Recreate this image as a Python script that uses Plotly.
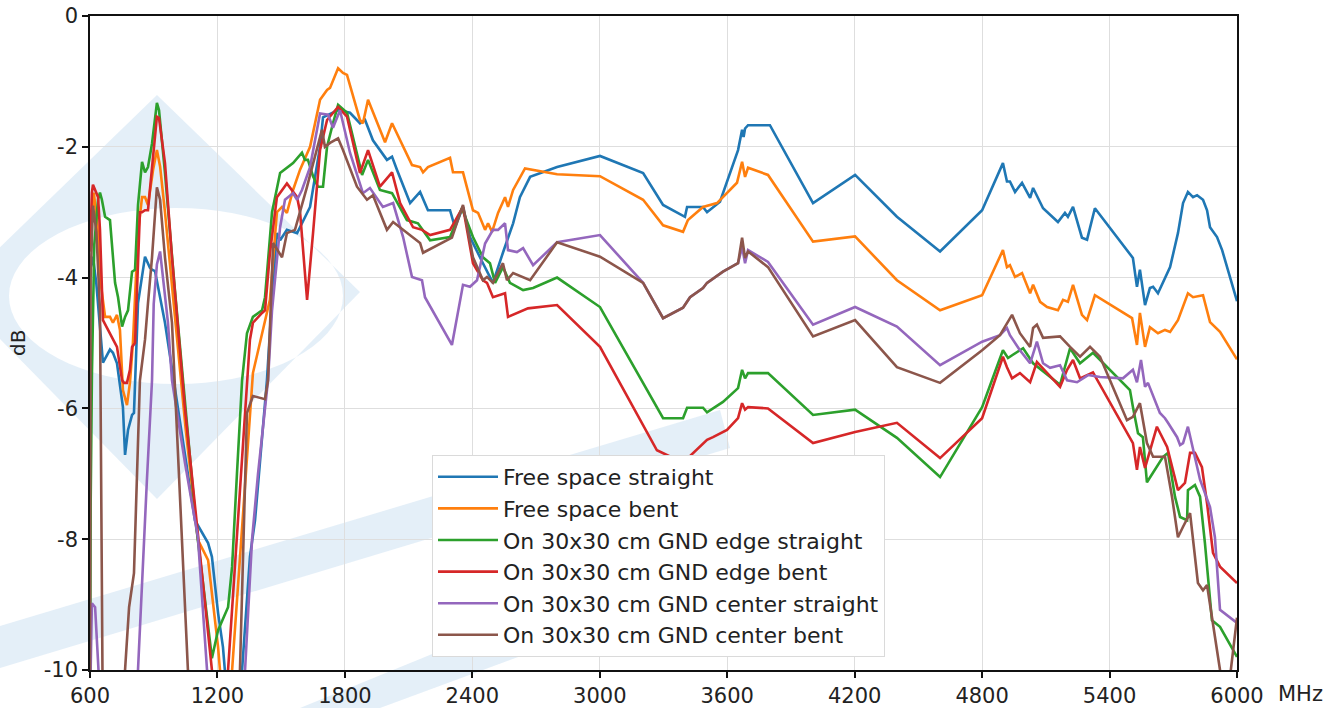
import math
import plotly.graph_objects as go

# ---------------- data (MHz, dB) ----------------
free_space_straight = [
    (600, -3.9), (614, -3.68), (630, -4.1), (661, -5.3), (694, -5.1), (708, -5.15), (727, -5.31),
    (755, -5.98), (765, -6.71), (779, -6.33), (798, -6.1), (807, -6.07), (826, -4.39), (859, -3.68),
    (882, -3.85), (892, -3.88), (906, -3.9), (953, -4.69), (1094, -7.71), (1156, -8.06), (1174, -8.27),
    (1203, -9.13), (1226, -9.65), (1250, -10.6), (1306, -10.6), (1316, -10.0), (1353, -8.27),
    (1377, -7.71), (1433, -5.57), (1457, -4.3), (1480, -3.32), (1495, -3.43), (1527, -3.27),
    (1575, -3.32), (1636, -2.92), (1683, -2.0), (1697, -1.55), (1768, -1.44), (1824, -1.48),
    (1871, -1.64), (1895, -1.59), (1932, -1.9), (1998, -2.2), (2022, -2.15), (2045, -2.35),
    (2107, -2.86), (2154, -2.69), (2191, -2.97), (2295, -2.97), (2318, -3.23), (2356, -2.92),
    (2389, -3.38), (2450, -3.78), (2497, -4.08), (2544, -3.62), (2592, -3.17), (2624, -2.77),
    (2672, -2.46), (2799, -2.31), (3001, -2.14), (3204, -2.4), (3298, -2.89), (3401, -3.07),
    (3411, -2.92), (3486, -2.92), (3505, -3.0), (3566, -2.84), (3651, -2.05), (3670, -1.74),
    (3677, -1.85), (3684, -1.72), (3698, -1.67), (3801, -1.67), (4004, -2.86), (4202, -2.43),
    (4399, -3.07), (4602, -3.6), (4800, -2.97), (4898, -2.25), (4917, -2.53), (4931, -2.53),
    (4955, -2.69), (4988, -2.55), (5026, -2.78), (5040, -2.63), (5063, -2.77), (5087, -2.94),
    (5157, -3.15), (5190, -3.01), (5204, -3.07), (5228, -2.92), (5270, -3.39), (5294, -3.42),
    (5331, -2.94), (5510, -3.7), (5529, -4.14), (5543, -3.88), (5567, -4.42), (5590, -4.16),
    (5605, -4.14), (5628, -4.24), (5685, -3.84), (5722, -3.32), (5746, -2.86), (5769, -2.69),
    (5793, -2.77), (5812, -2.74), (5840, -2.81), (5859, -2.97), (5873, -3.23), (5906, -3.38),
    (5930, -3.58), (6000, -4.36),
]

free_space_bent = [
    (600, -3.6), (605, -3.2), (618, -2.7), (635, -3.2), (647, -4.0), (671, -4.6), (694, -4.6),
    (708, -4.69), (727, -4.57), (741, -4.8), (755, -5.72), (774, -5.95), (788, -5.61), (802, -5.0),
    (826, -3.32), (845, -2.77), (859, -2.77), (873, -2.89), (897, -2.35), (915, -2.05), (930, -2.3),
    (953, -3.0), (1000, -4.6), (1050, -6.3), (1108, -8.01), (1156, -8.32), (1203, -9.65),
    (1212, -10.0), (1235, -10.6), (1260, -10.6), (1269, -10.0), (1367, -5.46), (1447, -4.34),
    (1480, -3.0), (1504, -2.92), (1527, -3.01), (1556, -2.66), (1589, -2.35), (1636, -2.0),
    (1683, -1.28), (1716, -1.13), (1730, -1.1), (1768, -0.8), (1791, -0.87), (1810, -0.9),
    (1871, -1.59), (1885, -1.64), (1909, -1.28), (1989, -1.93), (2022, -1.64), (2116, -2.28),
    (2154, -2.31), (2168, -2.39), (2191, -2.31), (2295, -2.17), (2309, -2.39), (2356, -2.39),
    (2403, -2.97), (2427, -3.01), (2460, -3.27), (2474, -3.17), (2493, -3.3), (2521, -3.01),
    (2554, -2.77), (2568, -2.92), (2592, -2.66), (2648, -2.33), (2799, -2.42), (3001, -2.45),
    (3204, -2.81), (3298, -3.2), (3392, -3.3), (3415, -3.12), (3486, -2.92), (3552, -2.86),
    (3646, -2.55), (3670, -2.23), (3684, -2.46), (3698, -2.32), (3792, -2.43), (4004, -3.45),
    (4202, -3.37), (4399, -4.04), (4602, -4.5), (4800, -4.27), (4898, -3.58), (4917, -3.84),
    (4931, -3.81), (4955, -3.99), (4988, -3.93), (5026, -4.24), (5040, -4.11), (5073, -4.37),
    (5106, -4.45), (5157, -4.5), (5181, -4.34), (5204, -4.37), (5228, -4.11), (5270, -4.57),
    (5294, -4.65), (5331, -4.27), (5506, -4.62), (5529, -5.03), (5543, -4.54), (5567, -5.06),
    (5590, -4.76), (5628, -4.85), (5661, -4.8), (5685, -4.83), (5722, -4.65), (5769, -4.24),
    (5793, -4.3), (5840, -4.27), (5873, -4.68), (5920, -4.83), (6000, -5.25),
]

gnd_edge_straight = [
    (600, -10.5), (603, -7.5), (609, -5.5), (614, -4.5), (620, -3.5), (638, -2.8), (647, -2.7),
    (656, -2.81), (671, -3.07), (694, -3.12), (718, -4.08), (732, -4.3), (751, -4.75), (765, -4.6),
    (779, -4.5), (798, -3.91), (812, -3.88), (826, -2.89), (845, -2.23), (859, -2.39), (873, -2.31),
    (892, -1.95), (915, -1.33), (925, -1.44), (953, -2.4), (1000, -4.2), (1100, -7.8),
    (1174, -9.82), (1203, -9.39), (1250, -9.04), (1269, -8.42), (1292, -6.99), (1316, -5.57),
    (1339, -4.85), (1367, -4.6), (1410, -4.5), (1424, -4.3), (1457, -3.0), (1495, -2.4),
    (1556, -2.25), (1598, -2.09), (1612, -2.2), (1626, -2.2), (1650, -2.45), (1673, -2.61),
    (1697, -2.61), (1716, -2.0), (1744, -1.64), (1768, -1.36), (1810, -1.48), (1881, -2.43),
    (1909, -2.2), (1965, -2.66), (2022, -2.71), (2092, -3.12), (2144, -3.17), (2201, -3.43),
    (2295, -3.38), (2351, -2.94), (2403, -3.38), (2450, -3.69), (2483, -3.78), (2507, -4.08),
    (2544, -3.84), (2577, -4.08), (2639, -4.19), (2686, -4.16), (2799, -4.0), (3001, -4.45),
    (3298, -6.15), (3392, -6.15), (3411, -5.99), (3486, -5.99), (3505, -6.06), (3580, -5.9),
    (3651, -5.69), (3670, -5.41), (3684, -5.54), (3698, -5.46), (3792, -5.46), (4004, -6.1),
    (4202, -6.02), (4399, -6.45), (4602, -7.05), (4800, -5.98), (4898, -5.11), (4922, -5.23),
    (4945, -5.18), (4993, -5.08), (5040, -5.31), (5167, -5.64), (5214, -5.08), (5261, -5.31),
    (5322, -5.15), (5496, -5.72), (5510, -5.98), (5534, -6.38), (5557, -6.44), (5576, -7.13),
    (5652, -6.74), (5675, -6.68), (5708, -7.35), (5732, -7.66), (5765, -7.71), (5769, -7.25),
    (5802, -7.17), (5826, -7.35), (5849, -8.06), (5882, -9.24), (5920, -9.34), (6000, -9.8),
]

gnd_edge_bent = [
    (600, -3.6), (609, -2.7), (614, -2.58), (638, -2.77), (647, -3.27), (661, -4.65), (685, -4.8),
    (704, -4.91), (727, -5.06), (751, -5.57), (760, -5.61), (774, -5.61), (788, -5.41), (798, -5.06),
    (812, -5.0), (835, -3.0), (845, -3.0), (859, -2.97), (873, -2.97), (882, -2.66), (897, -2.16),
    (915, -1.54), (925, -1.56), (953, -2.25), (986, -3.69), (1047, -6.0), (1174, -10.0),
    (1190, -10.6), (1240, -10.6), (1250, -10.0), (1353, -4.95), (1367, -4.69), (1410, -4.54),
    (1424, -4.5), (1447, -3.63), (1480, -2.77), (1527, -2.56), (1575, -2.77), (1589, -3.0),
    (1622, -4.34), (1650, -3.32), (1683, -2.05), (1716, -1.59), (1768, -1.39), (1810, -1.54),
    (1871, -2.4), (1909, -2.05), (1965, -2.61), (2022, -2.39), (2060, -2.86), (2121, -3.23),
    (2163, -3.27), (2201, -3.35), (2295, -3.27), (2356, -2.92), (2403, -3.78), (2450, -4.04),
    (2469, -4.08), (2497, -4.3), (2554, -4.24), (2568, -4.6), (2662, -4.47), (2799, -4.42),
    (3001, -5.06), (3269, -6.64), (3392, -6.83), (3505, -6.48), (3533, -6.44), (3599, -6.33),
    (3651, -6.15), (3670, -5.92), (3684, -6.02), (3698, -5.98), (3792, -6.0), (4004, -6.53),
    (4202, -6.36), (4399, -6.22), (4602, -6.76), (4800, -6.15), (4898, -5.21), (4917, -5.37),
    (4941, -5.54), (4978, -5.46), (5026, -5.6), (5058, -5.29), (5167, -5.67), (5200, -5.41),
    (5228, -5.26), (5261, -5.54), (5322, -5.45), (5510, -6.53), (5529, -6.94), (5543, -6.59),
    (5567, -6.91), (5623, -6.28), (5671, -6.59), (5722, -7.25), (5755, -7.14), (5779, -6.68),
    (5802, -6.68), (5835, -6.9), (5859, -7.45), (5887, -8.21), (5920, -8.42), (6000, -8.67),
]

gnd_center_straight = [
    (600, -10.5), (609, -8.98), (624, -9.04), (638, -10.0), (650, -10.6), (800, -10.6),
    (826, -10.0), (868, -7.09), (892, -5.57), (900, -4.4), (915, -3.8), (930, -3.6), (944, -3.99),
    (967, -4.69), (986, -5.57), (1047, -6.83), (1108, -7.97), (1151, -10.0), (1170, -10.6),
    (1320, -10.6), (1330, -10.0), (1363, -8.0), (1391, -7.0), (1438, -5.57), (1457, -4.5),
    (1495, -3.23), (1518, -2.81), (1556, -2.71), (1575, -2.81), (1598, -2.66), (1636, -2.31),
    (1683, -1.49), (1721, -1.51), (1744, -1.71), (1777, -1.44), (1824, -2.09), (1885, -2.71),
    (1918, -2.63), (1979, -2.92), (2027, -2.86), (2074, -3.38), (2116, -3.99), (2163, -4.04),
    (2177, -4.3), (2304, -5.03), (2356, -4.11), (2389, -4.14), (2422, -4.04), (2460, -3.48),
    (2497, -3.27), (2521, -3.27), (2554, -3.17), (2568, -3.58), (2610, -3.61), (2639, -3.55),
    (2686, -3.81), (2799, -3.46), (3001, -3.35), (3204, -4.08), (3298, -4.62), (3392, -4.46),
    (3425, -4.3), (3486, -4.16), (3505, -4.08), (3580, -3.91), (3651, -3.78), (3670, -3.53),
    (3684, -3.78), (3698, -3.58), (3792, -3.76), (4004, -4.72), (4202, -4.45), (4399, -4.75),
    (4602, -5.34), (4800, -4.98), (4884, -4.88), (4917, -4.77), (4931, -4.88), (4978, -5.11),
    (5026, -5.31), (5058, -4.98), (5087, -5.31), (5120, -5.38), (5167, -5.34), (5200, -5.57),
    (5247, -5.6), (5299, -5.49), (5355, -5.52), (5463, -5.54), (5510, -5.41), (5529, -5.6),
    (5548, -5.26), (5567, -5.67), (5581, -5.61), (5637, -6.07), (5661, -6.15), (5675, -6.22),
    (5718, -6.44), (5732, -6.56), (5746, -6.53), (5769, -6.28), (5793, -6.64), (5826, -7.09),
    (5873, -7.51), (5896, -7.97), (5920, -9.08), (6000, -9.28),
]

gnd_center_bent = [
    (600, -10.5), (603, -4.0), (614, -2.9), (630, -3.3), (647, -4.5), (660, -10.6), (760, -10.6),
    (765, -10.0), (784, -9.04), (807, -8.52), (835, -5.57), (859, -4.95), (873, -4.39),
    (892, -3.69), (915, -2.62), (930, -2.81), (953, -3.69), (986, -4.69), (1061, -10.0),
    (1080, -10.6), (1290, -10.6), (1306, -10.0), (1339, -6.07), (1367, -5.81), (1424, -5.86),
    (1438, -5.57), (1462, -3.47), (1504, -3.69), (1527, -3.32), (1565, -3.27), (1622, -2.61),
    (1669, -2.0), (1692, -1.74), (1706, -2.0), (1730, -1.94), (1768, -1.87), (1791, -2.05),
    (1857, -2.61), (1904, -2.81), (1932, -2.74), (1998, -3.27), (2027, -3.15), (2154, -3.47),
    (2168, -3.62), (2304, -3.39), (2356, -2.89), (2403, -3.69), (2450, -4.04), (2469, -3.99),
    (2497, -4.08), (2544, -3.78), (2563, -4.04), (2592, -3.93), (2672, -4.04), (2799, -3.46),
    (3001, -3.68), (3204, -4.08), (3298, -4.62), (3392, -4.46), (3425, -4.3), (3486, -4.16),
    (3505, -4.08), (3580, -3.91), (3651, -3.78), (3670, -3.39), (3684, -3.7), (3698, -3.6),
    (3792, -3.84), (4004, -4.9), (4202, -4.65), (4399, -5.37), (4602, -5.61), (4800, -5.11),
    (4884, -4.88), (4941, -4.57), (4978, -4.85), (5026, -5.06), (5040, -4.77), (5058, -4.72),
    (5087, -4.92), (5167, -4.9), (5214, -5.06), (5261, -5.21), (5308, -5.06), (5355, -5.21),
    (5482, -6.18), (5510, -6.13), (5543, -5.92), (5576, -6.53), (5605, -6.74), (5661, -6.74),
    (5694, -7.35), (5722, -7.97), (5746, -7.81), (5779, -7.6), (5816, -8.67), (5840, -8.78),
    (5859, -8.7), (5920, -10.0), (5935, -10.6), (5960, -10.3), (6000, -9.2),
]

series_names = [
    "Free space straight",
    "Free space bent",
    "On 30x30 cm GND edge straight",
    "On 30x30 cm GND edge bent",
    "On 30x30 cm GND center straight",
    "On 30x30 cm GND center bent",
]
series_data = [free_space_straight, free_space_bent, gnd_edge_straight,
               gnd_edge_bent, gnd_center_straight, gnd_center_bent]
series_colors = ["#1f77b4", "#ff7f0e", "#2ca02c", "#d62728", "#9467bd", "#8c564b"]

x_ticks = [600, 1200, 1800, 2400, 3000, 3600, 4200, 4800, 5400, 6000]
y_ticks = [0, -2, -4, -6, -8, -10]
y_tick_text = ["0", "-2", "-4", "-6", "-8", "-10"]

# ---------------- figure ----------------
W, H = 1338, 708
L, R, T, B = 90, 101, 16, 38
PW, PH = W - L - R, H - T - B
FONT = "DejaVu Sans"


def px(xp, yp):
    """pixel position -> paper coords (decoration only)"""
    return (xp - L) / PW, (H - B - yp) / PH


fig = go.Figure()
for name, data, color in zip(series_names, series_data, series_colors):
    fig.add_trace(go.Scatter(
        x=[p[0] for p in data], y=[p[1] for p in data], mode="lines", name=name,
        legendgroup=name, line=dict(color=color, width=2.6),
    ))

# faint watermark shapes
wm = "rgba(205,226,242,0.55)"
outer = [(157, 95), (360, 292), (157, 499), (-46, 292)]
path = "M " + " L ".join("%f,%f" % px(*p) for p in outer) + " Z "
cx, cy, rx, ry = 176, 296, 167, 88
pts = []
for k in range(72, -1, -1):
    a = 2 * math.pi * k / 72
    pts.append(px(cx + rx * math.cos(a), cy + ry * math.sin(a)))
path += "M " + " L ".join("%f,%f" % p for p in pts) + " Z"
shapes = [dict(type="path", xref="paper", yref="paper", path=path,
               fillcolor=wm, line=dict(width=0), layer="below")]
bands = [
    [(0, 626), (720, 410), (730, 448), (0, 668)],
    [(300, 708), (760, 520), (780, 560), (380, 708)],
]
for b in bands:
    shapes.append(dict(type="path", xref="paper", yref="paper",
                       path="M " + " L ".join("%f,%f" % px(*p) for p in b) + " Z",
                       fillcolor=wm, line=dict(width=0), layer="below"))

axis_common = dict(
    showline=True, linecolor="#111", linewidth=1.5, mirror=True,
    ticks="outside", ticklen=6, tickwidth=1.5, tickcolor="#111",
    showgrid=True, gridcolor="#dedede", gridwidth=1, zeroline=False,
    tickfont=dict(family=FONT, size=21, color="#222"),
)

fig.update_layout(
    width=W, height=H,
    margin=dict(l=L, r=R, t=T, b=B, autoexpand=False),
    paper_bgcolor="white", plot_bgcolor="rgba(0,0,0,0)",
    shapes=shapes,
    xaxis=dict(range=[600, 6000], tickvals=x_ticks, **axis_common),
    yaxis=dict(range=[-10, 0], tickvals=y_ticks, ticktext=y_tick_text, **axis_common),
    showlegend=True,
    legend=dict(
        x=px(432, 0)[0], y=px(0, 455)[1], xanchor="left", yanchor="top",
        bgcolor="white", bordercolor="#dadada", borderwidth=1,
        font=dict(family=FONT, size=22, color="#222"),
        tracegroupgap=5, traceorder="normal", itemwidth=60,
    ),
    annotations=[
        dict(text="dB", x=px(18, 0)[0], y=0.5, xref="paper", yref="paper",
             textangle=-90, showarrow=False, xanchor="center", yanchor="middle",
             font=dict(family=FONT, size=20, color="#222")),
        dict(text="MHz", x=px(1300, 0)[0], y=px(0, 694)[1], xref="paper", yref="paper",
             showarrow=False, xanchor="center", yanchor="middle",
             font=dict(family=FONT, size=21, color="#222")),
    ],
)

fig.write_html(
    "out.html",
    config={"displayModeBar": False},
    post_script="document.body.style.margin='0';document.body.style.padding='0';",
)
